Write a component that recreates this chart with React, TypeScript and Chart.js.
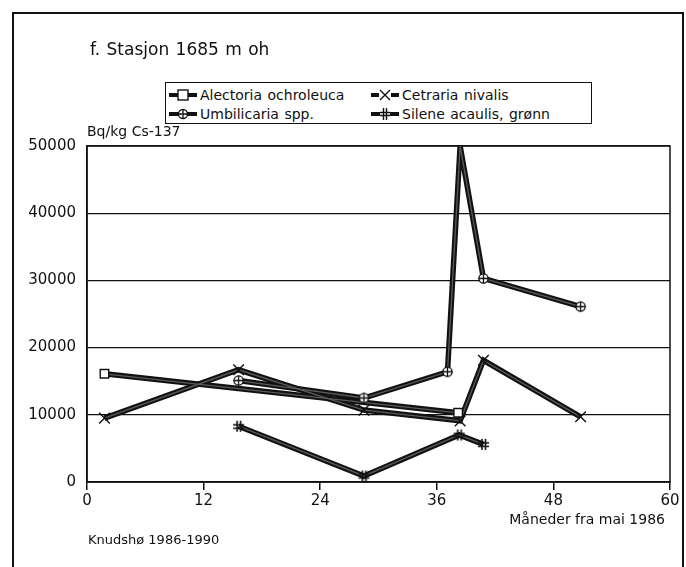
import React, { useEffect, useRef } from "react";
import { Chart, registerables } from "chart.js";

Chart.register(...registerables);

// ---- data ----
const xTicks = [0, 12, 24, 36, 48, 60];
const yTicks = [0, 10000, 20000, 30000, 40000, 50000];

const alectoriaMonths = [1.8, 38.2];
const alectoriaValues = [16100, 10300];

const cetrariaMonths = [1.8, 15.6, 28.5, 38.4, 40.8, 50.8];
const cetrariaValues = [9500, 16700, 10700, 9100, 18100, 9700];

const umbilicariaMonths = [15.6, 28.5, 37.1, 38.4, 40.8, 50.8];
const umbilicariaValues = [15100, 12500, 16400, 50000, 30300, 26100];

const sileneMonths = [15.6, 28.5, 38.3, 40.8];
const sileneValues = [8300, 900, 7000, 5600];

const seriesNames = [
  "Alectoria ochroleuca",
  "Cetraria nivalis",
  "Umbilicaria spp.",
  "Silene acaulis, grønn",
];

const FONT = "'DejaVu Sans', 'Liberation Sans', Arial, sans-serif";

function toPoints(xs: number[], ys: number[]) {
  return xs.map((x, i) => ({ x, y: ys[i] }));
}

function makeCirclePlus(): HTMLCanvasElement {
  const c = document.createElement("canvas");
  c.width = 13;
  c.height = 13;
  const g = c.getContext("2d")!;
  g.lineWidth = 1.3;
  g.strokeStyle = "#111";
  g.fillStyle = "#fff";
  g.beginPath();
  g.arc(6.5, 6.5, 4.6, 0, Math.PI * 2);
  g.fill();
  g.stroke();
  g.beginPath();
  g.moveTo(6.5, 1.5);
  g.lineTo(6.5, 11.5);
  g.moveTo(1.5, 6.5);
  g.lineTo(11.5, 6.5);
  g.stroke();
  return c;
}

function makeHash(): HTMLCanvasElement {
  const c = document.createElement("canvas");
  c.width = 13;
  c.height = 13;
  const g = c.getContext("2d")!;
  g.lineWidth = 1.6;
  g.strokeStyle = "#111";
  g.beginPath();
  g.moveTo(5, 1);
  g.lineTo(5, 12);
  g.moveTo(8.5, 1);
  g.lineTo(8.5, 12);
  g.moveTo(1, 5);
  g.lineTo(12, 5);
  g.moveTo(1, 8.5);
  g.lineTo(12, 8.5);
  g.stroke();
  return c;
}

const framePlugin = {
  id: "frame",
  beforeDatasetsDraw(chart: any) {
    const { ctx, chartArea } = chart;
    ctx.save();
    ctx.strokeStyle = "#111";
    ctx.lineWidth = 1.5;
    ctx.strokeRect(
      chartArea.left,
      chartArea.top,
      chartArea.right - chartArea.left,
      chartArea.bottom - chartArea.top
    );
    ctx.restore();
  },
};

function Swatch({ kind }: { kind: string }) {
  return (
    <svg width="30" height="14" style={{ display: "block" }}>
      <line x1="1" y1="7" x2="29" y2="7" stroke="#111" strokeWidth="4" />
      {kind === "rect" && (
        <rect x="10" y="2" width="10" height="10" fill="#fff" stroke="#111" strokeWidth="1.4" />
      )}
      {kind === "cross" && (
        <g>
          <rect x="9" y="3" width="12" height="8" fill="#fff" />
          <path d="M10 2 L20 12 M20 2 L10 12" stroke="#111" strokeWidth="1.4" />
        </g>
      )}
      {kind === "circle" && (
        <g>
          <circle cx="15" cy="7" r="4.5" fill="#fff" stroke="#111" strokeWidth="1.3" />
          <path d="M15 2 L15 12 M10 7 L20 7" stroke="#111" strokeWidth="1.3" />
        </g>
      )}
      {kind === "hash" && (
        <g>
          <rect x="10" y="2" width="10" height="10" fill="#fff" />
          <path d="M13.5 1 L13.5 13 M16.5 1 L16.5 13 M10 5.5 L20 5.5 M10 8.5 L20 8.5" stroke="#111" strokeWidth="1.4" />
        </g>
      )}
    </svg>
  );
}

export default function App() {
  const ref = useRef<HTMLCanvasElement>(null);

  useEffect(() => {
    if (!ref.current) return;
    const circ = makeCirclePlus();
    const hash = makeHash();

    const series = [
      { data: toPoints(alectoriaMonths, alectoriaValues), style: "rect" as any, r: 6 },
      { data: toPoints(cetrariaMonths, cetrariaValues), style: "crossRot" as any, r: 7.5 },
      { data: toPoints(umbilicariaMonths, umbilicariaValues), style: circ as any, r: 6 },
      { data: toPoints(sileneMonths, sileneValues), style: hash as any, r: 6 },
    ];

    const datasets: any[] = [];
    series.forEach((s, i) => {
      datasets.push({
        label: seriesNames[i] + " base",
        data: s.data,
        showLine: true,
        borderColor: "#111",
        borderWidth: 5.5,
        pointRadius: 0,
        order: 30,
      });
      datasets.push({
        label: seriesNames[i] + " inner",
        data: s.data,
        showLine: true,
        borderColor: "#5a5a5a",
        borderWidth: 1.3,
        pointRadius: 0,
        order: 20,
      });
      datasets.push({
        label: seriesNames[i],
        data: s.data,
        showLine: false,
        pointStyle: s.style,
        // the marker at the very top edge is hidden in the original
        pointRadius: (ctx: any) => (ctx.raw && ctx.raw.y >= 50000 ? 0 : s.r),
        pointBackgroundColor: "#fff",
        pointBorderColor: "#111",
        pointBorderWidth: 1.4,
        order: 10,
      });
    });

    const chart = new Chart(ref.current, {
      type: "scatter",
      data: { datasets },
      plugins: [framePlugin],
      options: {
        animation: false,
        responsive: false,
        layout: { padding: { left: 0, right: 16, top: 146, bottom: 55 } },
        plugins: { legend: { display: false }, tooltip: { enabled: false } },
        scales: {
          x: {
            type: "linear",
            min: 0,
            max: 60,
            afterFit: (scale: any) => {
              scale.height = 30;
            },
            afterBuildTicks: (scale: any) => {
              scale.ticks = xTicks.map((v) => ({ value: v }));
            },
            ticks: {
              color: "#111",
              font: { family: FONT, size: 15 },
              padding: 2,
            },
            grid: {
              drawOnChartArea: false,
              drawTicks: true,
              tickLength: 8,
              color: "#111",
              lineWidth: 1.5,
            },
            border: { display: true, color: "#111", width: 1.5 },
          },
          y: {
            type: "linear",
            min: 0,
            max: 50000,
            afterFit: (scale: any) => {
              scale.width = 87;
            },
            afterBuildTicks: (scale: any) => {
              scale.ticks = yTicks.map((v) => ({ value: v }));
            },
            ticks: {
              color: "#111",
              font: { family: FONT, size: 15 },
              padding: 11,
              callback: (v: any) => String(v),
            },
            grid: {
              drawTicks: false,
              color: "#111",
              lineWidth: 1.2,
            },
            border: { display: true, color: "#111", width: 1.5 },
          },
        },
      },
    });
    return () => chart.destroy();
  }, []);

  const text: React.CSSProperties = {
    position: "absolute",
    fontFamily: FONT,
    fontSize: 14,
    color: "#111",
    whiteSpace: "nowrap",
    lineHeight: "18px",
  };

  return (
    <div style={{ position: "absolute", left: 0, top: 0, width: 686, height: 567, background: "#fff", overflow: "hidden" }}>
      <div
        style={{
          position: "absolute",
          left: 12,
          top: 12,
          width: 668,
          height: 600,
          borderLeft: "2px solid #111",
          borderTop: "2px solid #111",
          borderRight: "2px solid #111",
        }}
      />
      <canvas ref={ref} width={686} height={567} style={{ position: "absolute", left: 0, top: 0 }} />
      <div style={{ ...text, left: 90, top: 40, fontSize: 17, wordSpacing: 1 }}>f. Stasjon 1685 m oh</div>
      <div
        style={{
          position: "absolute",
          left: 165,
          top: 82,
          width: 425,
          height: 40,
          border: "1.5px solid #111",
          background: "#fff",
        }}
      >
        {[0, 1].map((row) => (
          <div key={row} style={{ position: "absolute", top: row === 0 ? 3 : 22, left: 0, height: 18, width: 425 }}>
            {[0, 1].map((col) => {
              const idx = row === 0 ? (col === 0 ? 0 : 1) : col === 0 ? 2 : 3;
              const kinds = ["rect", "cross", "circle", "hash"];
              return (
                <div
                  key={col}
                  style={{
                    position: "absolute",
                    left: col === 0 ? 2 : 204,
                    top: 0,
                    display: "flex",
                    alignItems: "center",
                    height: 18,
                  }}
                >
                  <Swatch kind={kinds[idx]} />
                  <span style={{ ...text, position: "static", marginLeft: 2, wordSpacing: 1 }}>{seriesNames[idx]}</span>
                </div>
              );
            })}
          </div>
        ))}
      </div>
      <div style={{ ...text, left: 87, top: 122 }}>Bq/kg Cs-137</div>
      <div style={{ ...text, right: 21, top: 510 }}>Måneder fra mai 1986</div>
      <div style={{ ...text, left: 88, top: 531, fontSize: 13 }}>Knudshø 1986-1990</div>
    </div>
  );
}
